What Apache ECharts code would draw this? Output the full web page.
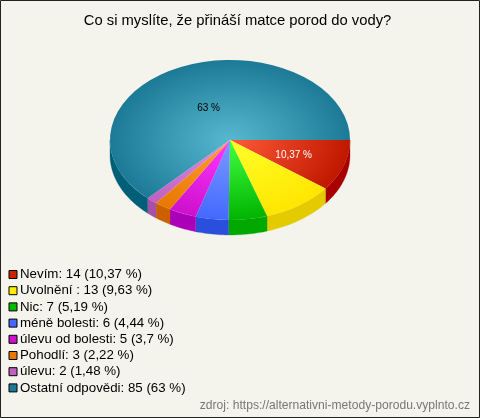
<!DOCTYPE html>
<html><head><meta charset="utf-8">
<style>html,body{margin:0;padding:0;background:#F5F4EC}#c{width:480px;height:418px}</style>
<script src="https://cdn.jsdelivr.net/npm/echarts@6/dist/echarts.min.js"></script>
</head><body><div id="c"></div>
<script>
const categories=['Nevím','Uvolnění ','Nic','méně bolesti','úlevu od bolesti','Pohodlí','úlevu','Ostatní odpovědi'];
const values=[14,13,7,6,5,3,2,85];
const percents=['10,37','9,63','5,19','4,44','3,7','2,22','1,48','63'];
const centerColors=['#FF5A38','#FFFF2A','#44FF44','#7A9CFF','#FF38FF','#FFA030','#E090E0','#58B8D0'];
const edgeColors=['#C01800','#FFE600','#00B400','#4468FF','#CC10CC','#E87800','#C060C0','#1C7A96'];
const sideColors=['#A80000','#E3CB00','#00A800','#2A4FDD','#AC00B8','#CC5F00','#A850A8','#005F78'];
const legendColors=['#CC2200','#FFEE00','#00BB00','#4468FF','#CC10CC','#E87800','#C060C0','#1C7A96'];
const sliceLabels=['10,37 %',null,null,null,null,null,null,'63 %'];
const labelColors=['#fff','#000','#000','#000','#000','#000','#000','#000'];
const labelRadius=[0.56,0,0,0,0,0,0,0.45];

const CX=230,CY=140,RX=120,RY=80,DEPTH=15;
const total=values.reduce((a,b)=>a+b,0);
const chart=echarts.init(document.getElementById('c'),null,{renderer:'canvas'});
const series=categories.map((name,i)=>{
  const before=values.slice(0,i).reduce((a,b)=>a+b,0);
  const a0=before/total*Math.PI*2, a1=(before+values[i])/total*Math.PI*2;
  return {
    type:'custom',name,coordinateSystem:'none',silent:true,
    itemStyle:{color:legendColors[i]},
    data:[values[i]],
    renderItem(){
      const children=[];
      const s0=a0, s1=Math.min(a1,Math.PI);
      if(s0<Math.PI){
        const pts=[];const n=Math.max(2,Math.ceil((s1-s0)*40));
        for(let k=0;k<=n;k++){const t=s0+(s1-s0)*k/n;pts.push([CX+RX*Math.cos(t),CY+RY*Math.sin(t)]);}
        for(let k=n;k>=0;k--){const t=s0+(s1-s0)*k/n;pts.push([CX+RX*Math.cos(t),CY+DEPTH+RY*Math.sin(t)]);}
        children.push({type:'polygon',shape:{points:pts},style:{fill:sideColors[i],stroke:sideColors[i],lineWidth:0.3}});
      }
      children.push({type:'sector',x:CX,y:CY,scaleY:RY/RX,
        shape:{cx:0,cy:0,r0:0,r:RX,startAngle:a0,endAngle:a1,clockwise:true},
        style:{fill:new echarts.graphic.RadialGradient(0,0,RX,[{offset:0,color:centerColors[i]},{offset:1,color:edgeColors[i]}],true)}});
      if(sliceLabels[i]){
        const m=(a0+a1)/2;
        children.push({type:'text',z2:10,x:CX+RX*labelRadius[i]*Math.cos(m),y:CY+RY*labelRadius[i]*Math.sin(m)+1,
          style:{text:sliceLabels[i],fill:labelColors[i],font:'10px "Liberation Sans",Arial',textAlign:'center',textVerticalAlign:'middle'}});
      }
      return {type:'group',children};
    }
  };
});
chart.setOption({
  animation:false,
  backgroundColor:'#F5F4EC',
  title:[
    {text:'Co si myslíte, že přináší matce porod do vody?',left:232.5,top:8.5,textAlign:'center',
     textStyle:{fontFamily:'"Liberation Sans",Arial',fontSize:14.8,fontWeight:'normal',color:'#000'}},
    {text:'zdroj: https://alternativni-metody-porodu.vyplnto.cz',right:5,top:395,
     textStyle:{fontFamily:'"Liberation Sans",Arial',fontSize:12.1,fontWeight:'normal',color:'#777'}}
  ],
  legend:{orient:'vertical',left:8.5,top:268,itemWidth:8,itemHeight:8,itemGap:3.2,padding:0,selectedMode:false,icon:'rect',
    itemStyle:{borderColor:'#000',borderWidth:1},
    textStyle:{fontFamily:'"Liberation Sans",Arial',fontSize:13.3,color:'#000',padding:[0,0,0,-2],lineHeight:13},
    formatter:n=>{const i=categories.indexOf(n);return `${n}: ${values[i]} (${percents[i]} %)`;}},
  graphic:[{type:'rect',silent:true,z:100,shape:{x:0.5,y:0.5,width:479,height:417},style:{fill:'none',stroke:'#222',lineWidth:1}}],
  series
});
</script></body></html>
